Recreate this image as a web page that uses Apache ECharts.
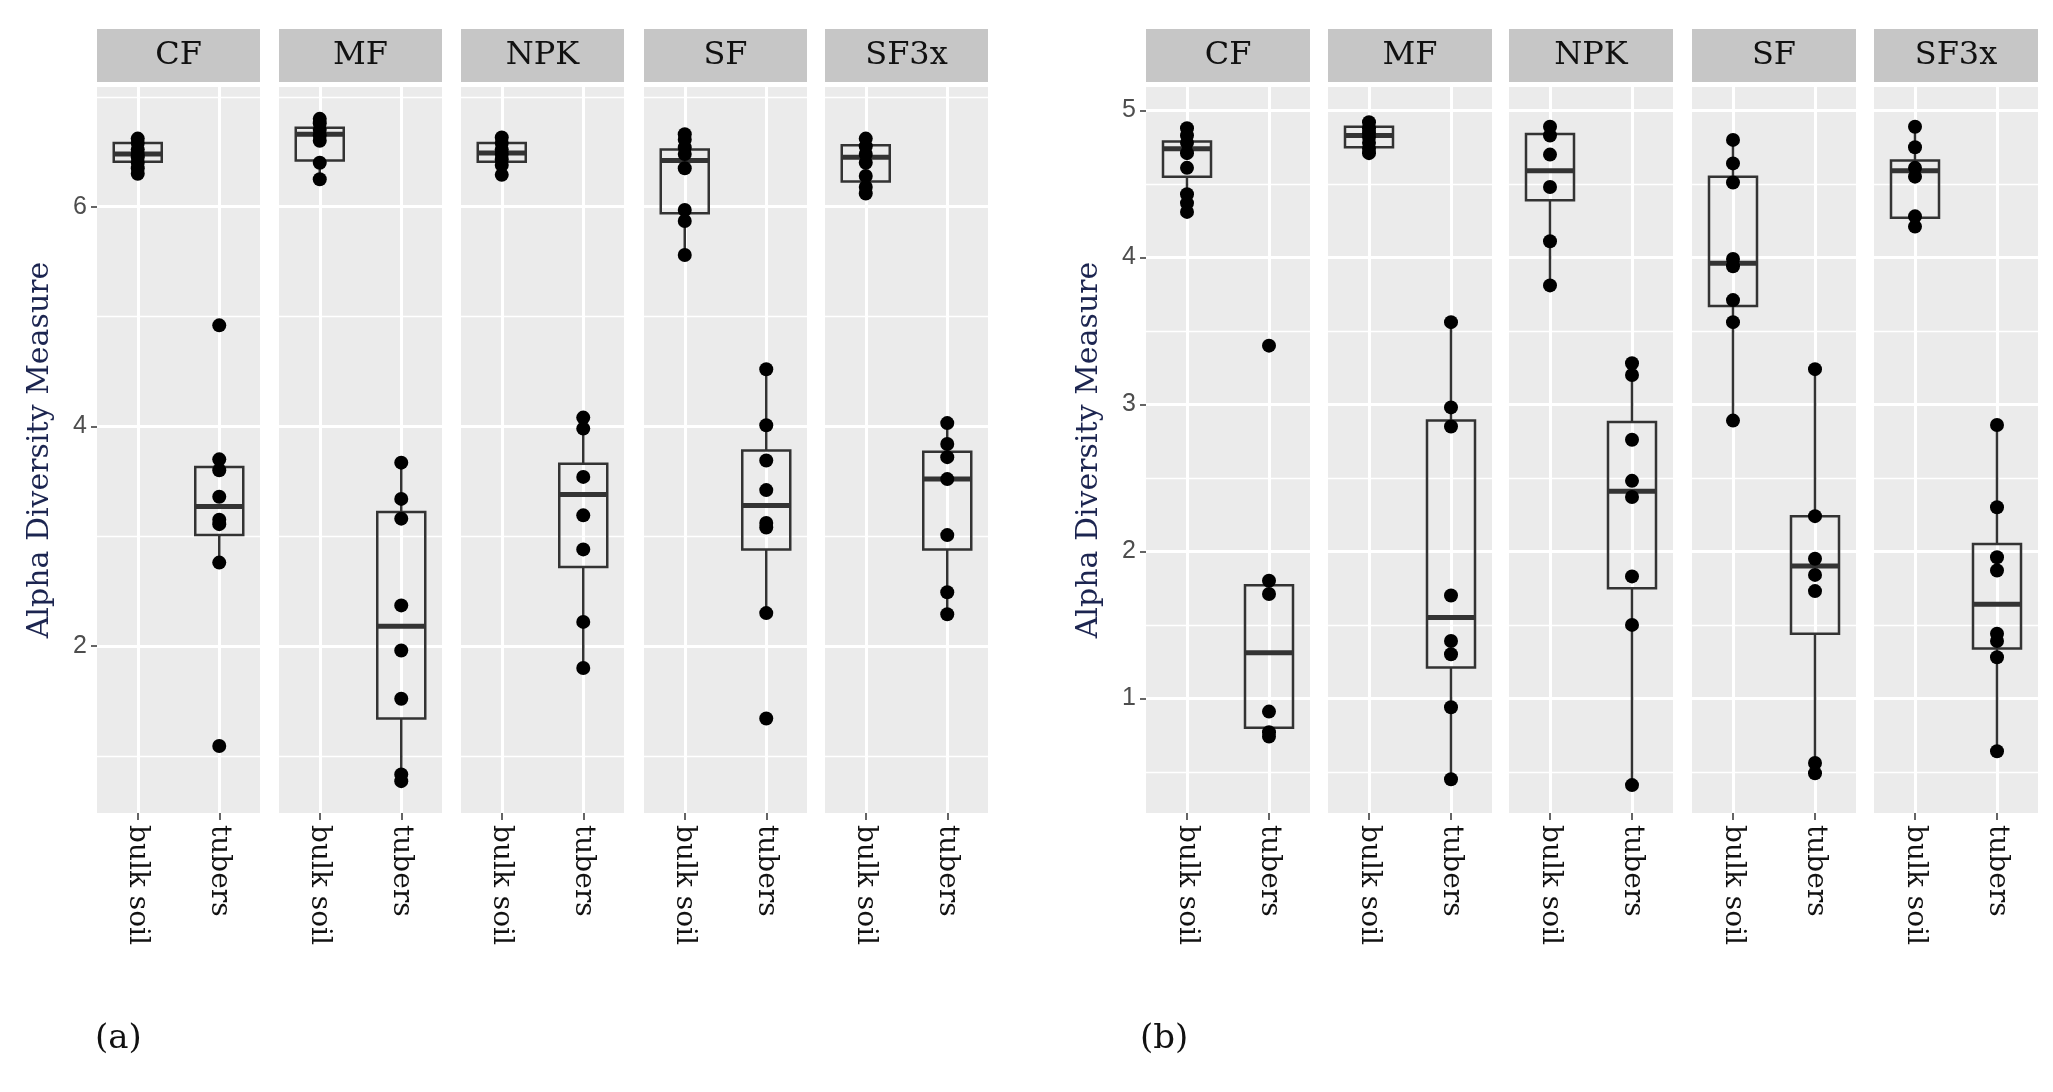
<!DOCTYPE html>
<html>
<head>
<meta charset="utf-8">
<script src="https://cdn.jsdelivr.net/npm/echarts@6/dist/echarts.min.js"></script>
<style>html,body{margin:0;background:#fff}#c{width:2053px;height:1092px}</style>
</head>
<body>
<div id="c"></div>
<script>
let panels = ['CF', 'MF', 'NPK', 'SF', 'SF3x']
let groups = ['bulk soil', 'tubers']

// (a) box stats [min, Q1, median, Q3, max] per panel: [bulk, tubers]
let boxA = [
    [[6.30, 6.41, 6.48, 6.58, 6.62], [2.76, 3.01, 3.27, 3.63, 3.70]],
    [[6.25, 6.42, 6.66, 6.72, 6.80], [0.77, 1.34, 2.18, 3.22, 3.67]],
    [[6.29, 6.41, 6.49, 6.58, 6.63], [1.80, 2.72, 3.38, 3.66, 4.08]],
    [[5.56, 5.94, 6.42, 6.52, 6.66], [2.30, 2.88, 3.28, 3.78, 4.52]],
    [[6.12, 6.23, 6.45, 6.56, 6.62], [2.29, 2.88, 3.52, 3.77, 4.03]]
]
let ptsA = [
    [[6.62, 6.58, 6.52, 6.48, 6.45, 6.40, 6.35, 6.30], [4.92, 3.70, 3.60, 3.36, 3.15, 3.11, 2.76, 1.09]],
    [[6.80, 6.76, 6.70, 6.65, 6.60, 6.40, 6.25], [3.67, 3.34, 3.16, 2.37, 1.96, 1.52, 0.83, 0.77]],
    [[6.63, 6.58, 6.52, 6.48, 6.43, 6.38, 6.29], [4.08, 3.98, 3.54, 3.19, 2.88, 2.22, 1.80]],
    [[6.66, 6.61, 6.54, 6.48, 6.35, 5.97, 5.87, 5.56], [4.52, 4.01, 3.69, 3.42, 3.12, 3.08, 2.30, 1.34]],
    [[6.62, 6.55, 6.48, 6.40, 6.28, 6.18, 6.12], [4.03, 3.84, 3.72, 3.52, 3.01, 2.49, 2.29]]
]
// (b)
let boxB = [
    [[4.31, 4.55, 4.74, 4.79, 4.88], [0.74, 0.80, 1.31, 1.77, 1.80]],
    [[4.71, 4.75, 4.83, 4.89, 4.92], [0.45, 1.21, 1.55, 2.89, 3.56]],
    [[3.81, 4.39, 4.59, 4.84, 4.89], [0.41, 1.75, 2.41, 2.88, 3.28]],
    [[2.89, 3.67, 3.96, 4.55, 4.80], [0.49, 1.44, 1.90, 2.24, 3.24]],
    [[4.21, 4.27, 4.59, 4.66, 4.89], [0.64, 1.34, 1.64, 2.05, 2.86]]
]
let ptsB = [
    [[4.88, 4.83, 4.78, 4.71, 4.61, 4.43, 4.37, 4.31], [3.40, 1.80, 1.71, 0.91, 0.77, 0.74]],
    [[4.92, 4.88, 4.85, 4.82, 4.78, 4.74, 4.71], [3.56, 2.98, 2.85, 1.70, 1.39, 1.30, 0.94, 0.45]],
    [[4.89, 4.83, 4.70, 4.48, 4.11, 3.81], [3.28, 3.20, 2.76, 2.48, 2.37, 1.83, 1.50, 0.41]],
    [[4.80, 4.64, 4.51, 3.99, 3.94, 3.71, 3.56, 2.89], [3.24, 2.24, 1.95, 1.84, 1.73, 0.56, 0.49]],
    [[4.89, 4.75, 4.61, 4.55, 4.28, 4.21], [2.86, 2.30, 1.96, 1.87, 1.44, 1.39, 1.28, 0.64]]
]
let majorA = [2, 4, 6], minorA = [1, 3, 5, 7]
let majorB = [1, 2, 3, 4, 5], minorB = [0.5, 1.5, 2.5, 3.5, 4.5]

let serif = 'DejaVu Serif'
let grid = [], xAxis = [], yAxis = [], series = [], graphic = []

// ggplot-style box: no whisker caps, thick median
function renderBox(params, api) {
    let x = api.value(0), hw = 24
    let pMin = api.coord([x, api.value(1)]), pQ1 = api.coord([x, api.value(2)])
    let pMed = api.coord([x, api.value(3)]), pQ3 = api.coord([x, api.value(4)])
    let pMax = api.coord([x, api.value(5)])
    let st = {stroke: '#333', lineWidth: 2.5, fill: null}
    return {type: 'group', children: [
        {type: 'line', shape: {x1: pMin[0], y1: pMin[1], x2: pQ1[0], y2: pQ1[1]}, style: st},
        {type: 'line', shape: {x1: pQ3[0], y1: pQ3[1], x2: pMax[0], y2: pMax[1]}, style: st},
        {type: 'rect', shape: {x: pQ3[0] - hw, y: pQ3[1], width: 2 * hw, height: pQ1[1] - pQ3[1]}, style: st},
        {type: 'line', shape: {x1: pMed[0] - hw, y1: pMed[1], x2: pMed[0] + hw, y2: pMed[1]},
            style: {stroke: '#333', lineWidth: 5}}
    ]}
}

function addFigure(lefts, width, yMin, yMax, major, minor, boxes, pts, label, labelX, nameGap) {
    lefts.forEach((left, i) => {
        let k = grid.length
        grid.push({left: left, width: width, top: 87, height: 726, show: true,
            backgroundColor: '#ebebeb', borderWidth: 0})
        xAxis.push({type: 'category', gridIndex: k, data: groups,
            axisLine: {show: false},
            axisTick: {show: true, alignWithLabel: true, length: 7, lineStyle: {color: '#333', width: 1.5}},
            axisLabel: {rotate: -90, fontFamily: serif, fontSize: 28, color: '#111', margin: 12},
            splitLine: {show: false}})
        yAxis.push({type: 'value', gridIndex: k, min: yMin, max: yMax,
            name: i == 0 ? 'Alpha Diversity Measure' : '', nameLocation: 'middle', nameGap: nameGap,
            nameTextStyle: {fontFamily: serif, fontSize: 30, color: '#1c2550'},
            axisLine: {show: false},
            axisTick: {show: i == 0, length: 6, customValues: major, lineStyle: {color: '#333', width: 1.5}},
            axisLabel: {show: i == 0, customValues: major, fontSize: 25, color: '#4d4d4d', margin: 10},
            splitLine: {show: false}})
        let lines = major.map(v => ({yAxis: v, lineStyle: {width: 3}}))
            .concat(minor.map(v => ({yAxis: v, lineStyle: {width: 1.3}})))
            .concat(groups.map(g => ({xAxis: g, lineStyle: {width: 3}})))
        series.push({type: 'line', xAxisIndex: k, yAxisIndex: k, data: [], z: 1,
            markLine: {silent: true, symbol: 'none', label: {show: false}, animation: false,
                lineStyle: {color: '#fff', type: 'solid'}, data: lines}})
        series.push({type: 'custom', xAxisIndex: k, yAxisIndex: k, zlevel: 1, renderItem: renderBox,
            encode: {x: 0, y: [1, 2, 3, 4, 5]},
            data: boxes[i].map((b, g) => [g].concat(b))})
        let d = []
        pts[i].forEach((arr, g) => arr.forEach(v => d.push([g, v])))
        series.push({type: 'scatter', xAxisIndex: k, yAxisIndex: k, zlevel: 1, z: 3, symbolSize: 14,
            itemStyle: {color: '#000', opacity: 1}, data: d})
        graphic.push({type: 'rect', left: left, top: 29, shape: {width: width, height: 53},
            style: {fill: '#c6c6c6'}})
        graphic.push({type: 'text', x: left + width / 2, y: 56,
            style: {text: panels[i], font: '32px "' + serif + '"', fill: '#111', align: 'center', verticalAlign: 'middle'}})
    })
    graphic.push({type: 'text', left: labelX, top: 1022,
        style: {text: label, font: '34px "' + serif + '"', fill: '#111'}})
}

addFigure([97, 279, 461, 644, 825], 163, 0.48, 7.09, majorA, minorA, boxA, ptsA, '(a)', 95, 42)
addFigure([1146, 1328, 1509, 1692, 1874], 164, 0.22, 5.16, majorB, minorB, boxB, ptsB, '(b)', 1140, 42)

let chart = echarts.init(document.getElementById('c'))
chart.setOption({animation: false, grid: grid, xAxis: xAxis, yAxis: yAxis, series: series, graphic: graphic})
</script>
</body>
</html>
